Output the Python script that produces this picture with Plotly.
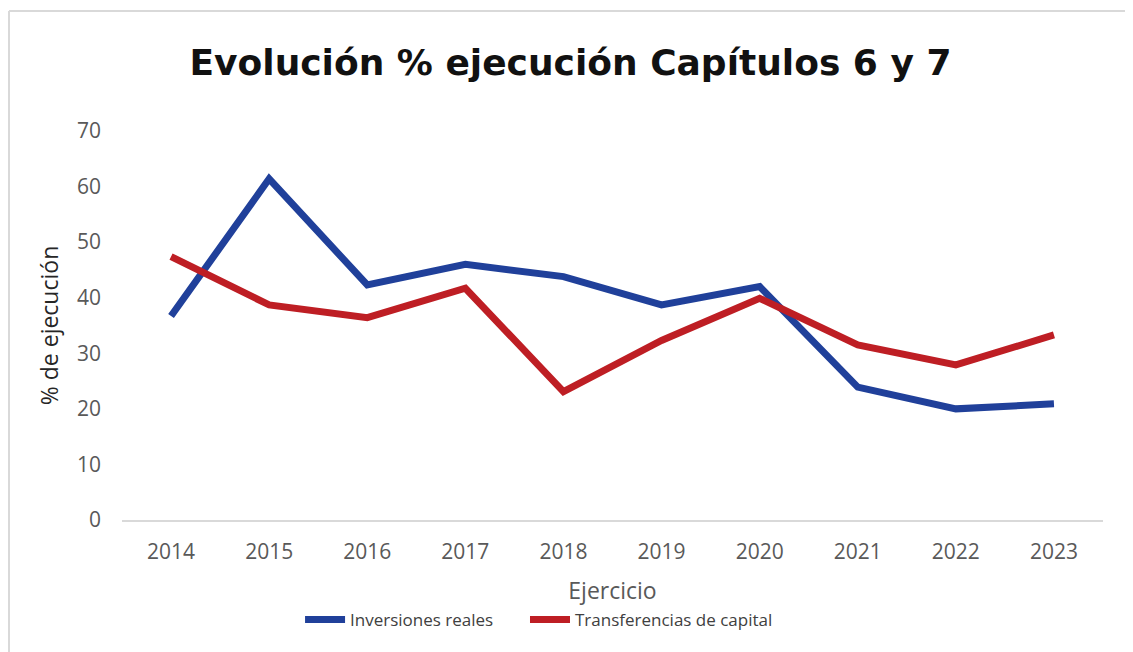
import plotly.graph_objects as go

years = ["2014", "2015", "2016", "2017", "2018", "2019", "2020", "2021", "2022", "2023"]
inversiones_reales = [36.7, 61.4, 42.3, 46.0, 43.8, 38.7, 42.0, 23.9, 20.0, 20.9]
transferencias_capital = [47.4, 38.7, 36.4, 41.7, 23.1, 32.3, 39.9, 31.5, 27.9, 33.3]
y_ticks = [0, 10, 20, 30, 40, 50, 60, 70]

BLUE = "#20409A"
RED = "#BE1E24"
TICK_FONT = dict(family="Open Sans", size=21, color="#595959")
LEGEND_FONT = dict(family="Open Sans", size=17, color="#404040")

W, H = 1125, 644

fig = go.Figure()
fig.add_trace(go.Scatter(
    x=years, y=inversiones_reales, mode="lines", name="Inversiones reales",
    line=dict(color=BLUE, width=7), cliponaxis=False, legend="legend",
))
fig.add_trace(go.Scatter(
    x=years, y=transferencias_capital, mode="lines", name="Transferencias de capital",
    line=dict(color=RED, width=7), cliponaxis=False, legend="legend2",
))

fig.update_layout(
    width=W, height=H,
    margin=dict(l=114, r=30, t=123, b=132),
    paper_bgcolor="white", plot_bgcolor="white",
    title=dict(
        text="<b>Evolución % ejecución Capítulos 6 y 7</b>",
        font=dict(family="DejaVu Sans", size=36, color="#111111"),
        x=0.5, xanchor="center", xref="container",
        y=1 - 54 / H, yanchor="middle", yref="container",
    ),
    xaxis=dict(
        type="category", tickvals=years, ticktext=years, range=[-0.5, 9.5],
        showgrid=False, zeroline=False,
        showline=True, linecolor="#D9D9D9", linewidth=2,
        ticks="", tickfont=TICK_FONT, ticklabelstandoff=12,
        title=dict(text="Ejercicio", font=dict(family="Open Sans", size=23, color="#595959"), standoff=19),
    ),
    yaxis=dict(
        range=[0, 70], tickvals=y_ticks,
        showgrid=False, zeroline=False, showline=False,
        ticks="", tickfont=TICK_FONT, ticklabelstandoff=20,
        title=dict(text="% de ejecución", font=dict(family="Open Sans", size=23, color="#262626"), standoff=11),
    ),
    legend=dict(
        orientation="h", x=0.1815, xanchor="left", y=-0.257, yanchor="middle",
        font=LEGEND_FONT, bgcolor="rgba(0,0,0,0)", itemwidth=40,
    ),
    legend2=dict(
        orientation="h", x=0.4108, xanchor="left", y=-0.257, yanchor="middle",
        font=LEGEND_FONT, bgcolor="rgba(0,0,0,0)", itemwidth=40,
    ),
    showlegend=True,
    shapes=[
        dict(type="line", xref="paper", yref="paper",
             x0=-0.1152, x1=-0.1152, y0=1.3085, y1=-0.35,
             line=dict(color="#D9D9D9", width=2)),
        dict(type="line", xref="paper", yref="paper",
             x0=-0.1152, x1=1.04, y0=1.3085, y1=1.3085,
             line=dict(color="#D9D9D9", width=2)),
    ],
)

fig.write_html("out.html")
